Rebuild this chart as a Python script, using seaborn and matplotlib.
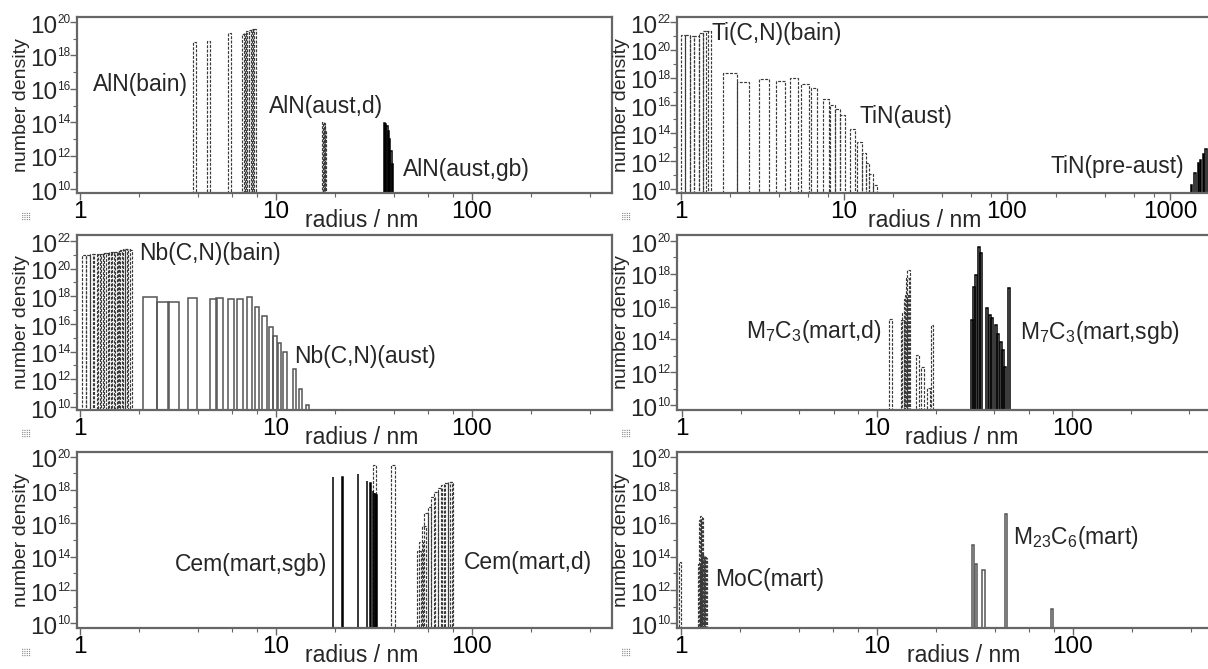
import numpy as np
import matplotlib.pyplot as plt
import seaborn as sns
from matplotlib.ticker import LogLocator, FixedLocator, FuncFormatter, NullFormatter

# ---- data (radius / nm, number density) ----
aln_bain_r = [3.84, 4.52, 5.80, 6.80, 7.00, 7.20, 7.40, 7.60, 7.80]
aln_bain_n = [6.6e18, 7.2e18, 2.1e19, 2.0e19, 2.1e19, 3.0e19, 3.3e19, 3.6e19, 3.6e19]
aln_d_r = [17.4, 17.55, 17.7, 17.85]
aln_d_n = [1.1e14, 9e13, 6e13, 3e13]
aln_gb_r = [35.8, 36.4, 37.0, 37.6, 38.2, 38.8, 39.4]
aln_gb_n = [9e13, 8e13, 6e13, 3e13, 1e13, 2e12, 3e11]

ti_bain_r = [1.03, 1.10, 1.17, 1.245, 1.325, 1.41, 1.48]
ti_bain_n = [1.15e21, 1.1e21, 1.0e21, 1.0e21, 1.6e21, 2.2e21, 2.4e21]
tin_aust_r = [2.0, 2.41, 3.24, 4.09, 4.95, 5.77, 6.55, 7.8, 8.5, 9.1, 9.8,
              11.3, 12.45, 13.2, 13.95, 14.7, 15.5]
tin_aust_n = [2.0e18, 4.7e17, 7.9e17, 5.5e17, 8.9e17, 3.3e17, 1.8e17, 2.8e16, 1.1e16,
              5.6e15, 2.1e15, 1.9e14, 2.5e13, 4.1e12, 7.1e11, 1.2e11, 2.0e10]
tin_pre_r = [1358, 1423, 1492, 1543, 1600, 1663]
tin_pre_n = [2e10, 1.3e11, 7e11, 1.3e12, 3.2e12, 8e12]

nb_bain_r = [1.05, 1.10, 1.15, 1.20, 1.25, 1.30, 1.35, 1.40, 1.45, 1.50,
             1.55, 1.60, 1.65, 1.70, 1.75, 1.80]
nb_bain_n = [9.8e20, 1.0e21, 1.1e21, 1.15e21, 1.15e21, 1.2e21, 1.3e21, 1.4e21, 1.5e21,
             1.6e21, 1.7e21, 1.9e21, 2.3e21, 2.5e21, 2.5e21, 2.2e21]
nb_aust_r = [2.28, 2.65, 3.01, 3.74, 4.81, 5.16, 5.88, 6.55, 7.3, 8.0, 8.75,
             9.4, 9.88, 10.45, 11.15, 12.4, 13.4, 14.45]
nb_aust_n = [9.5e17, 4.1e17, 4.1e17, 7.9e17, 6.5e17, 7.1e17, 6.3e17, 6.3e17, 8.9e17,
             1.8e17, 3.8e16, 6.5e15, 1.4e15, 4e14, 1e14, 5.4e12, 2e11, 1.3e10]

m7_d_r = [11.75, 13.5, 13.75, 13.95, 14.15, 14.35, 14.55, 16.1, 17.15, 18.3, 19.15]
m7_d_n = [1.7e15, 1.5e15, 4e15, 3e16, 5e16, 6e17, 1.7e18, 1.1e13, 2.2e12, 1.1e11, 7.6e14]
m7_sgb_r = [30.8, 31.4, 32.3, 33.2, 34.0, 36.8, 37.9, 39.0, 40.7, 41.9, 43.1, 44.3, 45.3, 47.4]
m7_sgb_n = [1.5e15, 1.6e17, 8.5e17, 4.5e19, 2.0e19, 8e15, 3.1e15, 2e15, 7.6e14,
            2.3e14, 7.2e13, 2.2e13, 2e12, 1.3e17]

cem_sgb_r = [19.6, 21.9, 26.3, 29.2, 30.4, 31.4, 31.8, 32.1, 32.4, 32.7]
cem_sgb_n = [5.8e18, 5.8e18, 8.7e18, 3.6e18, 2.5e18, 9e17, 7e17, 6.3e17, 5.5e17, 5e17]
cem_d_r = [31.9, 39.7, 53.8, 55.4, 56.9, 58.7, 61.0, 63.5, 66.0, 68.7, 71.4, 74.3, 77.2, 79.0]
cem_d_n = [3.2e19, 3.2e19, 2.2e14, 7.9e14, 6.9e15, 4e16, 1e17, 3.6e17, 7.9e17,
           1.26e18, 2e18, 2.7e18, 3.2e18, 3.2e18]

moc_r = [0.99, 1.23, 1.255, 1.27, 1.285, 1.30, 1.315, 1.33, 1.345]
moc_n = [4.6e13, 3.6e13, 1.5e16, 2.6e16, 2.0e16, 1.2e14, 1.1e14, 1.0e14, 8e13]
m23_r = [30.95, 32.0, 35.0, 45.8, 78.6]
m23_n = [4.9e14, 3.6e13, 1.6e13, 3.4e16, 6.8e10]

# ---- style ----
sns.set_theme(style='ticks')
plt.rcParams['font.family'] = ['Liberation Sans', 'DejaVu Sans']
plt.rcParams['mathtext.fontset'] = 'custom'
plt.rcParams['mathtext.rm'] = 'Liberation Sans'
plt.rcParams['mathtext.it'] = 'Liberation Sans:italic'
plt.rcParams['mathtext.default'] = 'regular'

W, H = 1208, 669
DASH = dict(ls=(0, (2.5, 1.2)), color='#3a3a3a', lw=0.85)
BLACK = dict(ls='-', color='black', lw=1.1)
GREY = dict(ls='-', color='#555555', lw=1.1)


def rect(x0, y0, x1, y1):
    return [x0 / W, 1 - y1 / H, (x1 - x0) / W, (y1 - y0) / H]


def draw_bars(ax, r, n, w0, p, style):
    r = np.asarray(r, dtype=float)
    n = np.asarray(n, dtype=float)
    w = w0 * r ** p
    ax.bar(r - w / 2, n - 1e9, width=w, bottom=1e9, align='edge', fill=False,
           edgecolor=style['color'], linestyle=style['ls'], linewidth=style['lw'])


def power_labels(ax, exps):
    # "10" with a small raised exponent, like the original axis labels
    for k in exps:
        ax.annotate('10', xy=(0, 10.0**k), xycoords=('axes fraction', 'data'),
                    xytext=(-14.4, -7.6), textcoords='offset points',
                    ha='right', va='baseline', fontsize=17.5, annotation_clip=False)
        ax.annotate(str(k), xy=(0, 10.0**k), xycoords=('axes fraction', 'data'),
                    xytext=(-14.4, -0.7), textcoords='offset points',
                    ha='left', va='baseline', fontsize=8.5, annotation_clip=False)


panels = [
    dict(rect=rect(77, 17, 612, 193), xlim=(0.965, 521), ylim=(10**9.76, 10**20.3), top=20,
         series=[(aln_bain_r, aln_bain_n, 0.035, 1, DASH),
                 (aln_d_r, aln_d_n, 0.02, 1, DASH),
                 (aln_gb_r, aln_gb_n, 0.015, 1, BLACK)],
         labels=[('AlN(bain)', 0.118, 0.619), ('AlN(aust,d)', 0.466, 0.489),
                 ('AlN(aust,gb)', 0.728, 0.131)], xlab=0.533),
    dict(rect=rect(677, 17, 1210, 193), xlim=(0.945, 1760), ylim=(10**9.71, 10**22.36), top=22,
         series=[(ti_bain_r, ti_bain_n, 0.065, 1, DASH),
                 (tin_aust_r, tin_aust_n, 0.316, 0.34, DASH),
                 (tin_pre_r, tin_pre_n, 0.018, 1, BLACK)],
         labels=[('Ti(C,N)(bain)', 0.187, 0.909), ('TiN(aust)', 0.430, 0.432),
                 ('TiN(pre-aust)', 0.827, 0.148)], xlab=0.465),
    dict(rect=rect(77, 235, 612, 410), xlim=(0.965, 521), ylim=(10**9.78, 10**22.43), top=22,
         series=[(nb_bain_r, nb_bain_n, 0.05, 1, DASH),
                 (nb_aust_r, nb_aust_n, 0.32, 0.15, GREY)],
         labels=[('Nb(C,N)(bain)', 0.249, 0.897), ('Nb(C,N)(aust)', 0.538, 0.303)],
         xlab=0.533),
    dict(rect=rect(677, 235, 1210, 410), xlim=(0.943, 510), ylim=(10**9.7, 10**20.37), top=20,
         series=[(m7_d_r, m7_d_n, 0.035, 1, DASH),
                 (m7_sgb_r, m7_sgb_n, 0.022, 1, BLACK)],
         labels=[(r'M$_7$C$_3$(mart,d)', 0.257, 0.446),
                 (r'M$_7$C$_3$(mart,sgb)', 0.794, 0.44)], xlab=0.535),
    dict(rect=rect(77, 452, 612, 628), xlim=(0.965, 521), ylim=(10**9.72, 10**20.28), top=20,
         series=[(cem_d_r, cem_d_n, 0.045, 1, DASH),
                 (cem_sgb_r, cem_sgb_n, 0.004, 1, BLACK)],
         labels=[('Cem(mart,sgb)', 0.326, 0.358), ('Cem(mart,d)', 0.843, 0.375)],
         xlab=0.533),
    dict(rect=rect(677, 452, 1210, 628), xlim=(0.954, 503), ylim=(10**9.72, 10**20.28), top=20,
         series=[(moc_r, moc_n, 0.025, 1, DASH),
                 (m23_r, m23_n, 0.028, 1, GREY)],
         labels=[('MoC(mart)', 0.173, 0.273), (r'M$_{23}$C$_6$(mart)', 0.748, 0.517)],
         xlab=0.537),
]

fig = plt.figure(figsize=(W / 100, H / 100), dpi=100)

for i, pan in enumerate(panels):
    ax = fig.add_axes(pan['rect'])
    ax.set_xscale('log')
    ax.set_yscale('log')
    for r, n, w0, p, st in pan['series']:
        draw_bars(ax, r, n, w0, p, st)
    ax.set_xlim(*pan['xlim'])
    ax.set_ylim(*pan['ylim'])

    ax.xaxis.set_major_locator(LogLocator(base=10))
    ax.xaxis.set_minor_locator(LogLocator(base=10, subs=(2, 4, 6, 8)))
    ax.xaxis.set_major_formatter(FuncFormatter(lambda v, _: f'{v:g}'))
    ax.xaxis.set_minor_formatter(NullFormatter())

    exps = list(range(10, pan['top'] + 1, 2))
    ax.yaxis.set_major_locator(FixedLocator([10.0**k for k in exps]))
    ax.yaxis.set_minor_locator(FixedLocator([10.0**k for k in range(11, pan['top'], 2)]))
    ax.yaxis.set_major_formatter(NullFormatter())
    ax.yaxis.set_minor_formatter(NullFormatter())
    power_labels(ax, exps)

    ax.tick_params(which='major', direction='out', length=5, width=1,
                   color='#666666', labelsize=17.5, pad=1, labelcolor='black')
    ax.tick_params(which='minor', direction='out', length=3, width=0.8, color='#666666')
    for sp in ax.spines.values():
        sp.set_color('#666666')
        sp.set_linewidth(1.6)

    ax.set_xlabel('radius / nm', fontsize=16.5, va='center')
    ax.xaxis.set_label_coords(pan['xlab'], -0.155)
    ax.set_ylabel('number density', fontsize=14, va='center')
    ax.yaxis.set_label_coords(-0.104, 0.5)

    for txt, tx, ty in pan['labels']:
        ax.text(tx, ty, txt, transform=ax.transAxes, fontsize=16.5,
                ha='center', va='center')

    # small dotted marker below each panel
    x0 = 27 if i % 2 == 0 else 626
    y0 = [216, 433, 652][i // 2]
    fig.text(x0 / W, 1 - y0 / H, '\u28ff\u28ff', fontsize=5.5, color='#8a8a8a',
             ha='center', va='center', family=['DejaVu Sans'])

fig.savefig('out.png', dpi=100)
